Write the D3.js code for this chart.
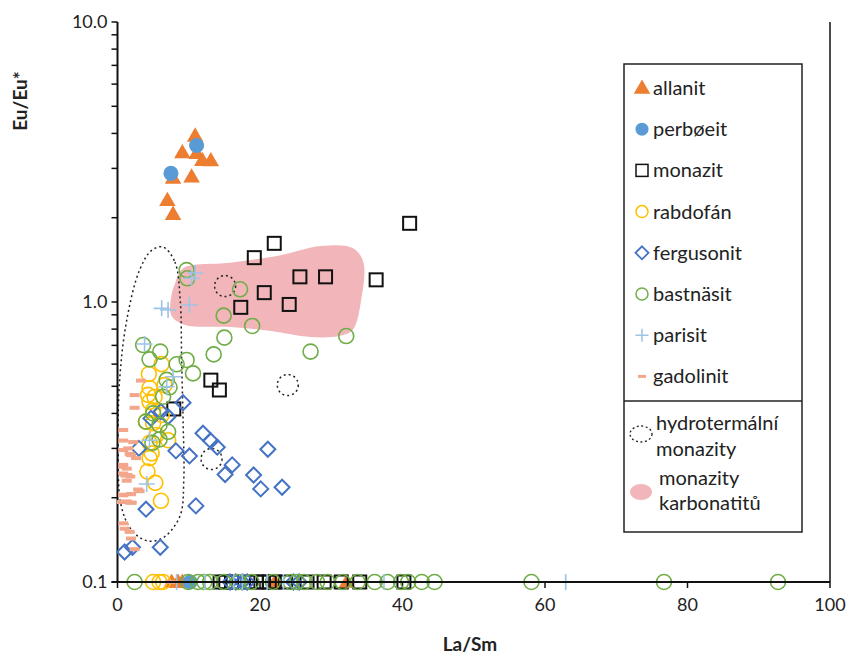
<!DOCTYPE html>
<html>
<head>
<meta charset="utf-8">
<script src="https://cdn.jsdelivr.net/npm/d3@7"></script>
<style>
  body { margin: 0; background: #fff; }
  svg text { font-family: Lato, "Open Sans", sans-serif; fill: #222; }
  .axis-title { font-weight: bold; font-size: 19px; }
  .tick-label { font-size: 18px; }
  .legend-text { font-size: 20px; }
</style>
</head>
<body>
<div id="chart"></div>
<script>
// La/Sm, Eu/Eu* pairs
const allanit = [[10.9, 3.92], [9.1, 3.42], [11.1, 3.40], [11.9, 3.21], [13.1, 3.20], [7.8, 2.77],
  [10.4, 2.80], [7.0, 2.31], [7.8, 2.06],
  [7.6, 0.1], [8.5, 0.1], [9.1, 0.1], [22.1, 0.1], [32.2, 0.1]];
const perboeit = [[11.1, 3.62], [7.5, 2.88], [10.2, 0.1]];
const monazit = [[41.0, 1.91], [22.0, 1.62], [19.2, 1.44], [25.6, 1.23], [29.2, 1.23], [36.3, 1.20],
  [20.6, 1.08], [24.1, 0.98], [17.3, 0.957], [13.1, 0.526], [14.3, 0.485], [7.9, 0.415],
  [14.4, 0.1], [15.2, 0.1], [16.0, 0.1], [18.3, 0.1], [19.5, 0.1], [20.5, 0.1], [21.3, 0.1], [22.0, 0.1],
  [23.6, 0.1], [26.6, 0.1], [29.0, 0.1], [31.4, 0.1], [34.0, 0.1], [40.2, 0.1]];
const rabdofan = [[4.4, 0.553], [4.5, 0.493], [4.3, 0.466], [5.2, 0.458], [4.5, 0.44], [5.0, 0.41],
  [4.0, 0.374], [5.0, 0.369], [6.2, 0.395], [7.1, 0.321], [4.5, 0.314], [4.8, 0.288], [4.5, 0.277],
  [4.2, 0.248], [5.3, 0.226], [6.1, 0.195], [5.5, 0.335], [6.6, 0.505], [6.2, 0.60],
  [5.0, 0.1], [5.9, 0.1], [6.4, 0.1]];
const fergusonit = [[9.2, 0.437], [12.0, 0.34], [13.1, 0.319], [14.0, 0.303], [10.1, 0.282], [16.1, 0.262],
  [15.1, 0.242], [21.1, 0.298], [19.1, 0.241], [20.1, 0.215], [23.1, 0.218], [7.1, 0.389],
  [3.0, 0.30], [8.2, 0.294], [11.0, 0.187], [4.0, 0.182], [6.0, 0.133], [1.0, 0.128], [2.1, 0.133],
  [4.7, 0.384], [6.1, 0.406],
  [15.8, 0.1], [16.6, 0.1], [17.5, 0.1], [18.2, 0.1], [24.7, 0.1], [25.5, 0.1]];
const bastnasit = [[9.7, 1.30], [9.8, 1.215], [17.2, 1.11], [14.9, 0.894], [18.9, 0.821], [15.0, 0.746],
  [13.5, 0.65], [32.1, 0.756], [27.1, 0.665], [9.7, 0.621], [10.6, 0.556], [3.6, 0.702], [6.0, 0.665],
  [4.5, 0.624], [8.3, 0.599], [6.9, 0.527], [7.3, 0.496], [6.4, 0.459], [5.0, 0.40], [4.0, 0.374],
  [5.9, 0.364], [7.1, 0.344], [5.9, 0.323], [4.9, 0.314],
  [2.4, 0.1], [9.9, 0.1], [11.3, 0.1], [12.2, 0.1], [13.0, 0.1], [14.9, 0.1], [17.0, 0.1], [18.8, 0.1],
  [21.8, 0.1], [24.3, 0.1], [25.2, 0.1], [26.2, 0.1], [28.0, 0.1], [29.5, 0.1], [31.6, 0.1], [33.7, 0.1],
  [36.1, 0.1], [37.9, 0.1], [39.8, 0.1], [40.8, 0.1], [42.7, 0.1], [44.5, 0.1], [58.1, 0.1], [76.7, 0.1],
  [92.7, 0.1]];
const parisit = [[10.9, 1.27], [10.4, 1.215], [6.2, 0.949], [7.1, 0.936], [10.1, 0.976], [3.8, 0.708],
  [7.8, 0.541], [6.9, 0.498], [4.5, 0.321], [4.1, 0.224],
  [8.3, 0.1], [12.3, 0.1], [16.3, 0.1], [17.5, 0.1], [21.0, 0.1], [23.3, 0.1], [37.4, 0.1], [62.9, 0.1]];
const gadolinit = [[3.3, 0.524], [2.4, 0.465], [2.4, 0.419], [0.8, 0.349], [0.8, 0.296], [1.9, 0.284],
  [2.6, 0.277], [0.8, 0.262], [1.3, 0.254], [1.1, 0.240], [1.8, 0.238], [1.3, 0.230], [2.9, 0.214],
  [0.8, 0.204], [1.9, 0.206], [0.6, 0.193], [1.8, 0.192], [1.0, 0.155], [1.9, 0.143], [2.4, 0.131],
  [0.8, 0.320], [2.2, 0.316], [1.5, 0.300], [1.7, 0.287], [0.8, 0.258], [0.8, 0.244], [1.4, 0.241],
  [3.1, 0.211], [1.9, 0.206], [0.8, 0.205], [1.3, 0.194], [2.0, 0.192], [0.8, 0.162], [1.7, 0.151],
  [7.4, 0.1]];

// outlines of the two reference fields
const carbonatiteField = [[9.2, 1.32], [15.8, 1.38], [22.9, 1.47], [28.5, 1.585], [33.0, 1.56], [34.5, 1.39],
  [34.2, 1.016], [33.0, 0.794], [31.1, 0.756], [27.1, 0.75], [21.5, 0.788], [15.8, 0.814], [9.5, 0.828],
  [7.6, 0.891], [7.5, 1.03], [8.1, 1.17]];
const hydroField = [[6.4, 1.571], [8.05, 1.39], [8.8, 1.017], [9.0, 0.621], [9.2, 0.379], [9.3, 0.231],
  [8.8, 0.173], [6.6, 0.145], [4.3, 0.140], [2.0, 0.153], [0.5, 0.188], [0.1, 0.296], [0.3, 0.527],
  [1.3, 0.862], [3.1, 1.30], [4.8, 1.53]];
const hydroSmall = [[15.1, 1.14], [23.9, 0.505], [13.2, 0.275]];

const xTicks = [0, 20, 40, 60, 80, 100];
const yTicks = [0.1, 1, 10];
const yTickLabels = ['0.1', '1.0', '10.0'];

const legendNames = ['allanit', 'perbøeit', 'monazit', 'rabdofán', 'fergusonit', 'bastnäsit', 'parisit', 'gadolinit'];

class ScatterChart {
    constructor(_config) {
        this.config = {
            parentElement: _config.parentElement,
            containerWidth: _config.containerWidth || 861,
            containerHeight: _config.containerHeight || 657,
            margin: _config.margin || {top: 22, right: 31, bottom: 75, left: 117.5},
        };
        this.initVis();
    }

    initVis() {
        let vis = this;
        vis.width = vis.config.containerWidth - vis.config.margin.left - vis.config.margin.right;
        vis.height = vis.config.containerHeight - vis.config.margin.top - vis.config.margin.bottom;

        vis.svg = d3.select(vis.config.parentElement)
            .append('svg')
            .attr('width', vis.config.containerWidth)
            .attr('height', vis.config.containerHeight);

        vis.chart = vis.svg.append('g')
            .attr('transform', `translate(${vis.config.margin.left}, ${vis.config.margin.top})`);

        vis.xScale = d3.scaleLinear().domain([0, 100]).range([0, vis.width]);
        vis.yScale = d3.scaleLog().domain([0.1, 10]).range([vis.height, 0]);

        // series styles
        vis.series = [
            {name: 'allanit', data: allanit, type: 'triangle', color: '#ED7D31'},
            {name: 'perbøeit', data: perboeit, type: 'dot', color: '#5B9BD5'},
            {name: 'monazit', data: monazit, type: 'square', color: '#111'},
            {name: 'rabdofán', data: rabdofan, type: 'ring', color: '#FFC000'},
            {name: 'fergusonit', data: fergusonit, type: 'diamond', color: '#4472C4'},
            {name: 'bastnäsit', data: bastnasit, type: 'ring', color: '#70AD47'},
            {name: 'parisit', data: parisit, type: 'cross', color: '#9DC3E6'},
            {name: 'gadolinit', data: gadolinit, type: 'dash', color: '#F2A68C'},
        ];
        vis.renderVis();
    }

    drawMarker(g, type, color) {
        if (type === 'triangle') {
            g.append('path').attr('d', d3.symbol(d3.symbolTriangle, 118)()).attr('fill', color)
                .attr('transform', 'translate(0,1)');
        } else if (type === 'dot') {
            g.append('circle').attr('r', 7.5).attr('fill', color);
        } else if (type === 'square') {
            g.append('rect').attr('x', -6.5).attr('y', -6.5).attr('width', 13).attr('height', 13)
                .attr('fill', 'none').attr('stroke', color).attr('stroke-width', 2);
        } else if (type === 'ring') {
            g.append('circle').attr('r', 7.5).attr('fill', 'none').attr('stroke', color).attr('stroke-width', 1.6);
        } else if (type === 'diamond') {
            g.append('path').attr('d', 'M0,-7.5L7.5,0L0,7.5L-7.5,0Z')
                .attr('fill', 'none').attr('stroke', color).attr('stroke-width', 2);
        } else if (type === 'cross') {
            g.append('path').attr('d', 'M-8,0H8M0,-8V8').attr('stroke', color).attr('stroke-width', 1.6);
        } else if (type === 'dash') {
            g.append('rect').attr('x', -5).attr('y', -2).attr('width', 10).attr('height', 4).attr('fill', color);
        }
    }

    renderVis() {
        let vis = this;
        const x = d => vis.xScale(d[0]);
        const y = d => vis.yScale(d[1]);

        // carbonatite monazite field
        const closedLine = d3.line().x(x).y(y).curve(d3.curveCatmullRomClosed.alpha(0.5));
        vis.chart.append('path')
            .attr('d', closedLine(carbonatiteField))
            .attr('fill', '#F2B6BA');

        // hydrothermal monazite fields
        vis.chart.append('path')
            .attr('d', closedLine(hydroField))
            .attr('fill', 'none')
            .attr('stroke', '#222')
            .attr('stroke-width', 1.5)
            .attr('stroke-dasharray', '2,3');
        vis.chart.selectAll('.hydro-small')
            .data(hydroSmall)
            .join('circle')
            .attr('class', 'hydro-small')
            .attr('cx', x).attr('cy', y).attr('r', 10.5)
            .attr('fill', 'none').attr('stroke', '#222').attr('stroke-width', 1.5)
            .attr('stroke-dasharray', '2,3');

        // axes
        const yMinor = [];
        [0.1, 1].forEach(base => d3.range(2, 10).forEach(k => yMinor.push(base * k)));
        vis.chart.selectAll('.ytick')
            .data(yTicks.concat(yMinor))
            .join('line')
            .attr('x1', -6).attr('x2', 0)
            .attr('y1', d => vis.yScale(d)).attr('y2', d => vis.yScale(d))
            .attr('stroke', '#111').attr('stroke-width', 1.5);
        vis.chart.selectAll('.xtick')
            .data(xTicks)
            .join('line')
            .attr('x1', d => vis.xScale(d)).attr('x2', d => vis.xScale(d))
            .attr('y1', vis.height).attr('y2', vis.height + 6)
            .attr('stroke', '#111').attr('stroke-width', 1.5);

        vis.chart.append('line')
            .attr('x1', 0).attr('x2', 0).attr('y1', 0).attr('y2', vis.height)
            .attr('stroke', '#111').attr('stroke-width', 2);
        vis.chart.append('line')
            .attr('x1', vis.width).attr('x2', vis.width).attr('y1', 0).attr('y2', vis.height)
            .attr('stroke', '#111').attr('stroke-width', 1.5);

        vis.chart.selectAll('.ylab')
            .data(yTicks)
            .join('text')
            .attr('class', 'tick-label')
            .attr('x', -10)
            .attr('y', d => vis.yScale(d))
            .attr('dy', '0.35em')
            .attr('text-anchor', 'end')
            .text((d, i) => yTickLabels[i]);
        vis.chart.selectAll('.xlab')
            .data(xTicks)
            .join('text')
            .attr('class', 'tick-label')
            .attr('x', d => vis.xScale(d))
            .attr('y', vis.height + 23)
            .attr('dy', '0.35em')
            .attr('text-anchor', 'middle')
            .text(d => d);

        vis.svg.append('text')
            .attr('class', 'axis-title')
            .attr('transform', 'translate(27,101) rotate(-90)')
            .attr('text-anchor', 'middle')
            .text('Eu/Eu*');
        vis.svg.append('text')
            .attr('class', 'axis-title')
            .attr('x', 470).attr('y', 651)
            .attr('text-anchor', 'middle')
            .text('La/Sm');

        // points
        vis.series.forEach(s => {
            vis.chart.append('g')
                .selectAll('g')
                .data(s.data)
                .join('g')
                .attr('transform', d => `translate(${x(d)},${y(d)})`)
                .each(function () { vis.drawMarker(d3.select(this), s.type, s.color); });
        });

        // bottom axis drawn over the below-detection row
        vis.chart.append('line')
            .attr('x1', -6).attr('x2', vis.width).attr('y1', vis.height).attr('y2', vis.height)
            .attr('stroke', '#111').attr('stroke-width', 2);

        // legend
        const legend = vis.svg.append('g').attr('transform', 'translate(624,64)');
        legend.append('rect').attr('width', 178).attr('height', 468)
            .attr('fill', '#fff').attr('stroke', '#222').attr('stroke-width', 1.5);
        legend.append('line').attr('x1', 0).attr('x2', 178).attr('y1', 337).attr('y2', 337)
            .attr('stroke', '#222').attr('stroke-width', 1.5);
        vis.series.forEach((s, i) => {
            const row = legend.append('g').attr('transform', `translate(18,${24 + i * 41.2})`);
            const m = row.append('g');
            if (s.type === 'triangle') vis.drawMarker(m, 'triangle', s.color);
            else if (s.type === 'dot') m.append('circle').attr('r', 6.5).attr('fill', s.color);
            else if (s.type === 'square') m.append('rect').attr('x', -6).attr('y', -6).attr('width', 12).attr('height', 12)
                .attr('fill', 'none').attr('stroke', s.color).attr('stroke-width', 1.5);
            else if (s.type === 'ring') m.append('circle').attr('r', 6).attr('fill', 'none').attr('stroke', s.color).attr('stroke-width', 1.5);
            else if (s.type === 'diamond') m.append('path').attr('d', 'M0,-6.5L6.5,0L0,6.5L-6.5,0Z')
                .attr('fill', 'none').attr('stroke', s.color).attr('stroke-width', 1.8);
            else if (s.type === 'cross') m.append('path').attr('d', 'M-6.5,0H6.5M0,-6.5V6.5').attr('stroke', s.color).attr('stroke-width', 1.5);
            else m.append('rect').attr('x', -4).attr('y', -1.5).attr('width', 8).attr('height', 3).attr('fill', s.color);
            row.append('text').attr('class', 'legend-text').attr('x', 11).attr('dy', '0.35em').text(legendNames[i]);
        });
        legend.append('ellipse').attr('cx', 17).attr('cy', 370).attr('rx', 11).attr('ry', 8)
            .attr('fill', 'none').attr('stroke', '#222').attr('stroke-width', 1.3).attr('stroke-dasharray', '2,2.5');
        legend.append('text').attr('class', 'legend-text').attr('x', 32).attr('y', 359).attr('dy', '0.35em').text('hydrotermální');
        legend.append('text').attr('class', 'legend-text').attr('x', 32).attr('y', 385).attr('dy', '0.35em').text('monazity');
        legend.append('ellipse').attr('cx', 17).attr('cy', 428).attr('rx', 11).attr('ry', 8).attr('fill', '#F2B6BA');
        legend.append('text').attr('class', 'legend-text').attr('x', 35).attr('y', 414).attr('dy', '0.35em').text('monazity');
        legend.append('text').attr('class', 'legend-text').attr('x', 35).attr('y', 439).attr('dy', '0.35em').text('karbonatitů');
    }
}

new ScatterChart({parentElement: '#chart'});
</script>
</body>
</html>
